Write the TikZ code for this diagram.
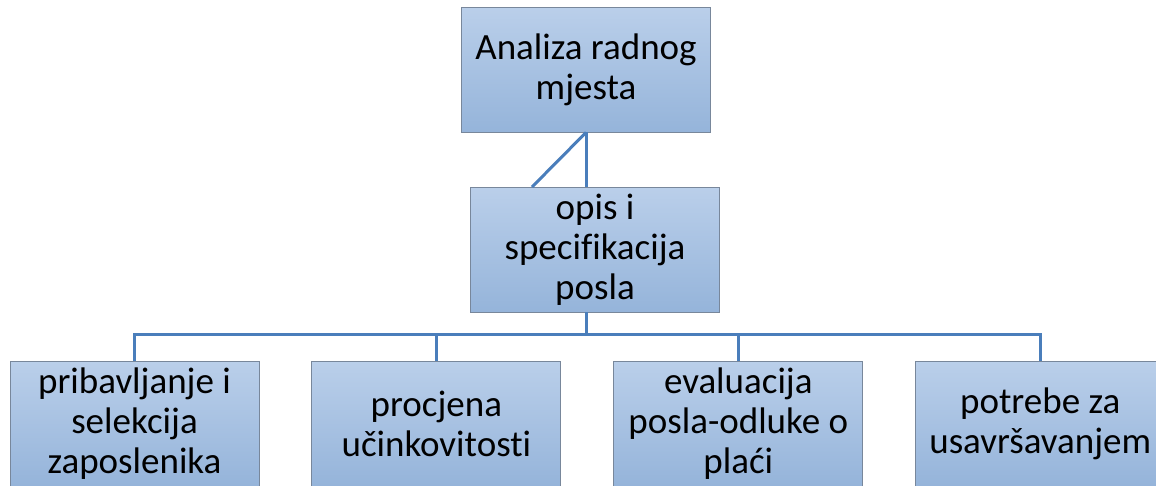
\documentclass[tikz,border=0pt]{standalone}
\usepackage{fontspec}
\setmainfont{Carlito}[Ligatures=NoCommon]
\usetikzlibrary{positioning}
\definecolor{boxtop}{RGB}{186,207,234}
\definecolor{boxbot}{RGB}{149,180,218}
\definecolor{boxline}{RGB}{120,135,155}
\definecolor{linkblue}{RGB}{74,126,187}

\begin{document}
\begin{tikzpicture}[
  x=1pt, y=1pt,
  node distance=52pt,
  box/.style={draw=boxline, line width=0.9pt, top color=boxtop, bottom color=boxbot,
              minimum width=249pt, minimum height=125pt, inner sep=0pt, align=center,
              font=\fontsize{37}{40}\selectfont},
  link/.style={draw=linkblue, line width=3pt}
]
  \useasboundingbox (0,0) rectangle (1156,-485);

  \node[box] (job) at (586,-69.5) {Analiza radnog\\mjesta};
  \node[box] (spec) at (595,-249.5) {opis i\\specifikacija\\posla};

  \node[box] (hire) at (134.5,-423.5) {pribavljanje i\\selekcija\\zaposlenika};
  \node[box, right=of hire] (perf) {procjena\\učinkovitosti};
  \node[box, right=of perf] (eval) {evaluacija\\posla-odluke o\\plaći};
  \node[box, right=of eval] (train) {potrebe za\\usavršavanjem};

  \coordinate (slant) at (532,-187);
  \coordinate (fork) at (586,-334);

  \draw[link] (job.south) -- (job.south |- spec.north);
  \draw[link] (job.south) -- (slant);
  \draw[link] (job.south |- spec.south) -- (fork);
  \draw[link] (hire.north) -- (hire.north |- fork) -- (train.north |- fork) -- (train.north);
  \foreach \b in {perf, eval}
    \draw[link] (\b.north |- fork) -- (\b.north);
\end{tikzpicture}
\end{document}
